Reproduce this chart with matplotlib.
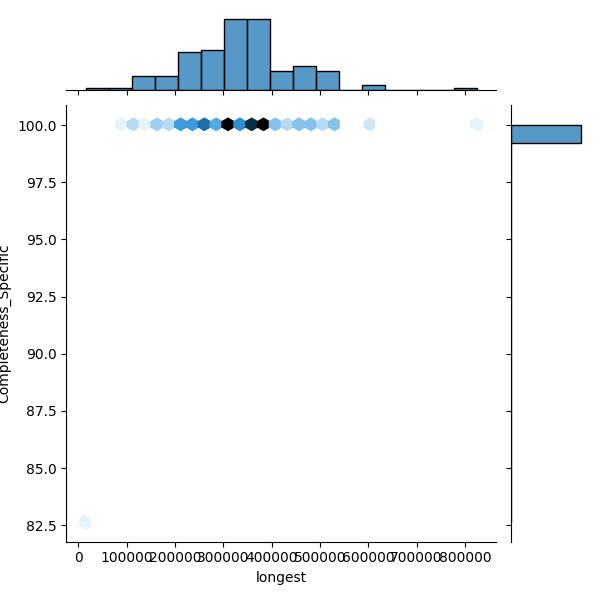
import numpy as np
import pandas as pd
import matplotlib
matplotlib.use('Agg')
import matplotlib.pyplot as plt
import seaborn as sns

# distinct "longest" values and how many rows share each one
longest_vals = [16000, 90000, 118000, 138000, 154000, 166000, 187000, 203000,
                214000, 236000, 251000, 262000, 285000, 311000, 334000, 347500,
                359000, 383000, 408000, 432000, 456000, 481000, 505000, 530000,
                603000, 824000]
row_counts = [1, 1, 3, 1, 2, 2, 3, 1,
              7, 8, 1, 10, 7, 18, 9, 3,
              12, 18, 5, 3, 5, 5, 3, 5,
              2, 1]
completeness_vals = [82.65] + [100.0] * 25

df = pd.DataFrame({
    "longest": np.repeat(longest_vals, row_counts),
    "Completeness_Specific": np.repeat(completeness_vals, row_counts),
})

# same colormap seaborn builds for kind="hex"
color_rgb = matplotlib.colors.to_rgb("C0")
colors = [sns.utils.set_hls_values(color_rgb, l=l) for l in np.linspace(1, 0, 12)]
cmap = sns.blend_palette(colors, as_cmap=True)

g = sns.JointGrid(data=df, x="longest", y="Completeness_Specific", height=6)
g.ax_joint.hexbin(df["longest"], df["Completeness_Specific"], gridsize=33, cmap=cmap)
sns.histplot(x=df["longest"], ax=g.ax_marg_x, bins=17, color="C0")
sns.histplot(y=df["Completeness_Specific"], ax=g.ax_marg_y, bins=22, color="C0")
g.set_axis_labels("longest", "Completeness_Specific")

plt.savefig("out.png", dpi=100)
